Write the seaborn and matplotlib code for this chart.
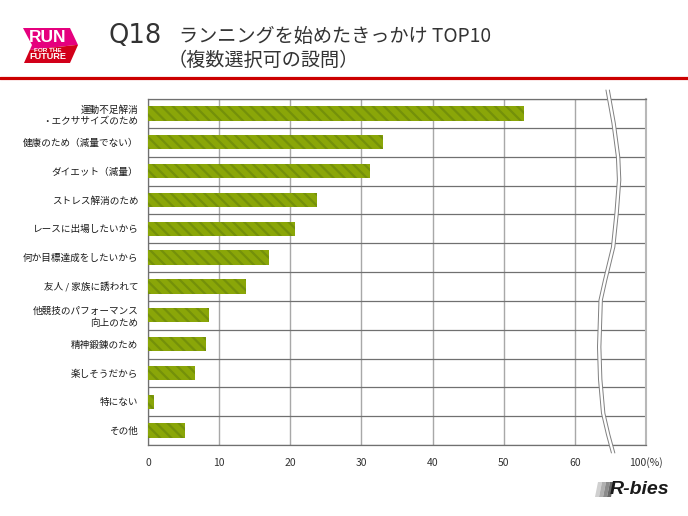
import pandas as pd
import matplotlib.pyplot as plt
import seaborn as sns
from matplotlib.patches import Polygon
from matplotlib.lines import Line2D
from matplotlib.transforms import offset_copy

# データ（グラフから読み取った値, %）
reasons = [
    "運動不足解消\n・エクササイズのため",
    "健康のため（減量でない）",
    "ダイエット（減量）",
    "ストレス解消のため",
    "レースに出場したいから",
    "何か目標達成をしたいから",
    "友人 / 家族に誘われて",
    "他競技のパフォーマンス\n向上のため",
    "精神鍛錬のため",
    "楽しそうだから",
    "特にない",
    "その他",
]
percent = [52.8, 33.0, 31.2, 23.8, 20.6, 17.0, 13.8, 8.6, 8.2, 6.6, 0.9, 5.2]
x_ticks = [0, 10, 20, 30, 40, 50, 60, 70]
x_tick_labels = ["0", "10", "20", "30", "40", "50", "60", "100(%)"]

W, H = 688, 516


def px(x, y):
    # ピクセル座標 -> figure座標
    return (x / W, 1 - y / H)


sns.set_style("white")
plt.rcParams['font.family'] = ['Noto Sans CJK JP', 'DejaVu Sans']
plt.rcParams['hatch.linewidth'] = 1.6

fig = plt.figure(figsize=(W / 100, H / 100), dpi=100)
ax = fig.add_axes([148 / W, 1 - 445 / H, 498 / W, 346 / H])

df = pd.DataFrame({"reason": reasons, "pct": percent})
sns.barplot(data=df, x="pct", y="reason", orient="h", color="#8aa608",
            saturation=1, width=0.5, ax=ax, zorder=3)

for p in ax.patches:
    p.set_hatch("\\\\\\")
    p.set_edgecolor("#74900a")
    p.set_linewidth(0)

ax.set_xlim(0, 70)
ax.set_ylim(len(reasons) - 0.5, -0.5)
ax.set_xticks(x_ticks)
ax.set_xticklabels(x_tick_labels)
ax.set_yticks([i - 0.5 for i in range(len(reasons) + 1)], minor=True)
ax.set_xlabel("")
ax.set_ylabel("")

ax.tick_params(axis="both", which="both", length=0)
ax.tick_params(axis="x", pad=9, labelsize=7.5, labelcolor="#333333")
ax.tick_params(axis="y", pad=7, labelsize=6.9, labelcolor="#1a1a1a")
for t in ax.get_yticklabels():
    t.set_linespacing(1.35)

ax.set_axisbelow(True)
ax.grid(axis="x", which="major", color="#a8a8a8", lw=1.0)
ax.grid(axis="y", which="minor", color="#707070", lw=0.9)
ax.grid(axis="y", which="major", visible=False)

for s in ["top", "bottom", "left"]:
    ax.spines[s].set_color("#707070")
    ax.spines[s].set_linewidth(0.9)
ax.spines["right"].set_color("#b8b8b8")
ax.spines["right"].set_linewidth(1.5)

# 省略線（波線）
bx = [0.923, 0.935, 0.944, 0.946, 0.941, 0.934, 0.918, 0.909, 0.906, 0.908, 0.914, 0.924, 0.934]
by = [1.026, 0.93, 0.832, 0.766, 0.67, 0.572, 0.477, 0.419, 0.283, 0.19, 0.092, 0.03, -0.023]
ax.plot(bx, by, transform=ax.transAxes, color="white", lw=2.4,
        clip_on=False, zorder=5, solid_capstyle="butt")
for dx in (-1.7, 1.7):
    ax.plot(bx, by, transform=offset_copy(ax.transAxes, fig=fig, x=dx, y=0, units="dots"),
            color="#808080", lw=0.7, clip_on=False, zorder=6)

# タイトル
fig.text(*px(109, 36), "Q18", fontsize=18.5, va="center", ha="left", color="#333333",
         family=["DejaVu Sans"])
fig.text(*px(179, 36), "ランニングを始めたきっかけ TOP10", fontsize=13.8,
         va="center", ha="left", color="#333333")
fig.text(*px(168, 60), "（複数選択可の設問）", fontsize=13.8,
         va="center", ha="left", color="#333333")
fig.add_artist(Line2D([0, 1], [1 - 77.5 / H] * 2, color="#cc0000", lw=2.3))

# ロゴ
pink = [px(23, 28), px(70, 28), px(78, 45), px(76, 45), px(30, 50), px(32, 45)]
red = [px(30, 50), px(76, 45), px(78, 45), px(70, 63), px(24, 63), px(32, 45)]
fig.add_artist(Polygon(pink, closed=True, transform=fig.transFigure,
                       facecolor="#e5007e", edgecolor="none"))
fig.add_artist(Polygon(red, closed=True, transform=fig.transFigure,
                       facecolor="#d2001a", edgecolor="none"))
logo_font = ["Liberation Sans Narrow", "Liberation Sans", "DejaVu Sans"]
fig.text(*px(48, 38), "RUN", fontsize=12.5, fontweight="bold", color="white",
         ha="center", va="center", family=logo_font)
fig.text(*px(48, 50), "FOR THE", fontsize=4.6, fontweight="bold", color="white",
         ha="center", va="center", family=logo_font)
fig.text(*px(48, 56.5), "FUTURE", fontsize=6.6, fontweight="bold", color="white",
         ha="center", va="center", family=logo_font)

# R-bies ロゴ
greys = ["#d0d0d0", "#b0b0b0", "#8c8c8c", "#686868"]
for i, g in enumerate(greys):
    x0 = 595 + i * 4
    fig.add_artist(Polygon([px(x0 + 3, 482), px(x0 + 7, 482), px(x0 + 4, 497), px(x0, 497)],
                           closed=True, transform=fig.transFigure,
                           facecolor=g, edgecolor="none"))
fig.text(*px(610, 490), "R-bies", fontsize=14, fontweight="bold", style="italic",
         color="#1a1a1a", ha="left", va="center", family=["Liberation Sans", "DejaVu Sans"])

fig.savefig("out.png", dpi=100)
